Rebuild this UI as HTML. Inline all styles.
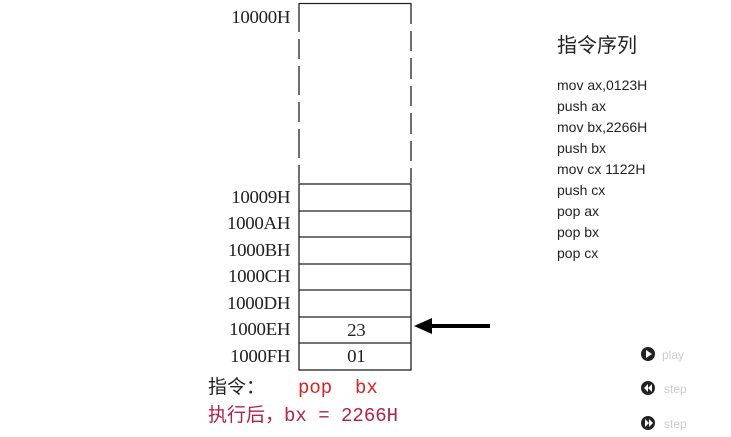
<!DOCTYPE html>
<html><head><meta charset="utf-8"><style>
body{margin:0;width:731px;height:437px;background:#fff;position:relative;overflow:hidden}
.l{position:absolute;font:18px "Liberation Serif","Noto Serif CJK SC",serif;color:#222;right:441px;line-height:18px;letter-spacing:-0.3px;transform:scaleX(1.05);transform-origin:right}
.t{position:absolute;font:14px "Liberation Sans","Noto Sans CJK SC",sans-serif;color:#222;left:557px;line-height:18px}
.s{position:absolute;font:19px "Liberation Mono","Noto Sans CJK SC",monospace;line-height:20px;white-space:pre}
.c{position:absolute;font:12px "Liberation Sans",sans-serif;color:#ccc}
</style></head><body>
<svg width="731" height="437" style="position:absolute;left:0;top:0">
<g stroke="#222" stroke-width="1.3" fill="none">
<line x1="299" y1="3.5" x2="411" y2="3.5"/>
<line x1="299" y1="3" x2="299" y2="183" stroke-dasharray="29,7,20,7"/>
<line x1="411" y1="3" x2="411" y2="183" stroke-dasharray="21,7,20,7"/>
<rect x="299" y="184" width="112" height="186"/>
<line x1="299" y1="211" x2="411" y2="211"/>
<line x1="299" y1="237" x2="411" y2="237"/>
<line x1="299" y1="264" x2="411" y2="264"/>
<line x1="299" y1="290" x2="411" y2="290"/>
<line x1="299" y1="317" x2="411" y2="317"/>
<line x1="299" y1="343" x2="411" y2="343"/>
</g>
<line x1="490" y1="326" x2="428" y2="326" stroke="#000" stroke-width="4"/>
<polygon points="414,326 432,318 432,334" fill="#000"/>
<g fill="#222"><circle cx="648" cy="354" r="7"/><circle cx="648" cy="388" r="7"/><circle cx="648" cy="423" r="7"/></g>
<g fill="#fff"><polygon points="646,350 646,358 652,354"/><polygon points="648,384 648,392 644,388"/><polygon points="652,384 652,392 648,388"/><polygon points="645,419 645,427 649,423"/><polygon points="649,419 649,427 653,423"/></g>
</svg>
<div class="l" style="top:8px">10000H</div>
<div class="l" style="top:188px">10009H</div>
<div class="l" style="top:214px">1000AH</div>
<div class="l" style="top:241px">1000BH</div>
<div class="l" style="top:267px">1000CH</div>
<div class="l" style="top:294px">1000DH</div>
<div class="l" style="top:320px">1000EH</div>
<div class="l" style="top:347px">1000FH</div>
<div class="l" style="right:366px;top:321px">23</div>
<div class="l" style="right:366px;top:347px">01</div>
<div class="s" style="left:208px;top:378px;color:#222">指令：</div>
<div class="s" style="left:298px;top:378px;color:#e02020">pop  bx</div>
<div class="s" style="left:208px;top:406px;color:#b0204a">执行后，bx = 2266H</div>
<div class="t" style="top:34px;font-size:20px;line-height:24px">指令序列</div>
<div class="t" style="top:76px">mov ax,0123H</div>
<div class="t" style="top:97px">push ax</div>
<div class="t" style="top:118px">mov bx,2266H</div>
<div class="t" style="top:139px">push bx</div>
<div class="t" style="top:160px">mov cx 1122H</div>
<div class="t" style="top:181px">push cx</div>
<div class="t" style="top:202px">pop ax</div>
<div class="t" style="top:223px">pop bx</div>
<div class="t" style="top:244px">pop cx</div>
<div class="c" style="left:662px;top:348px">play</div>
<div class="c" style="left:664px;top:382px">step</div>
<div class="c" style="left:664px;top:417px">step</div>
</body></html>
